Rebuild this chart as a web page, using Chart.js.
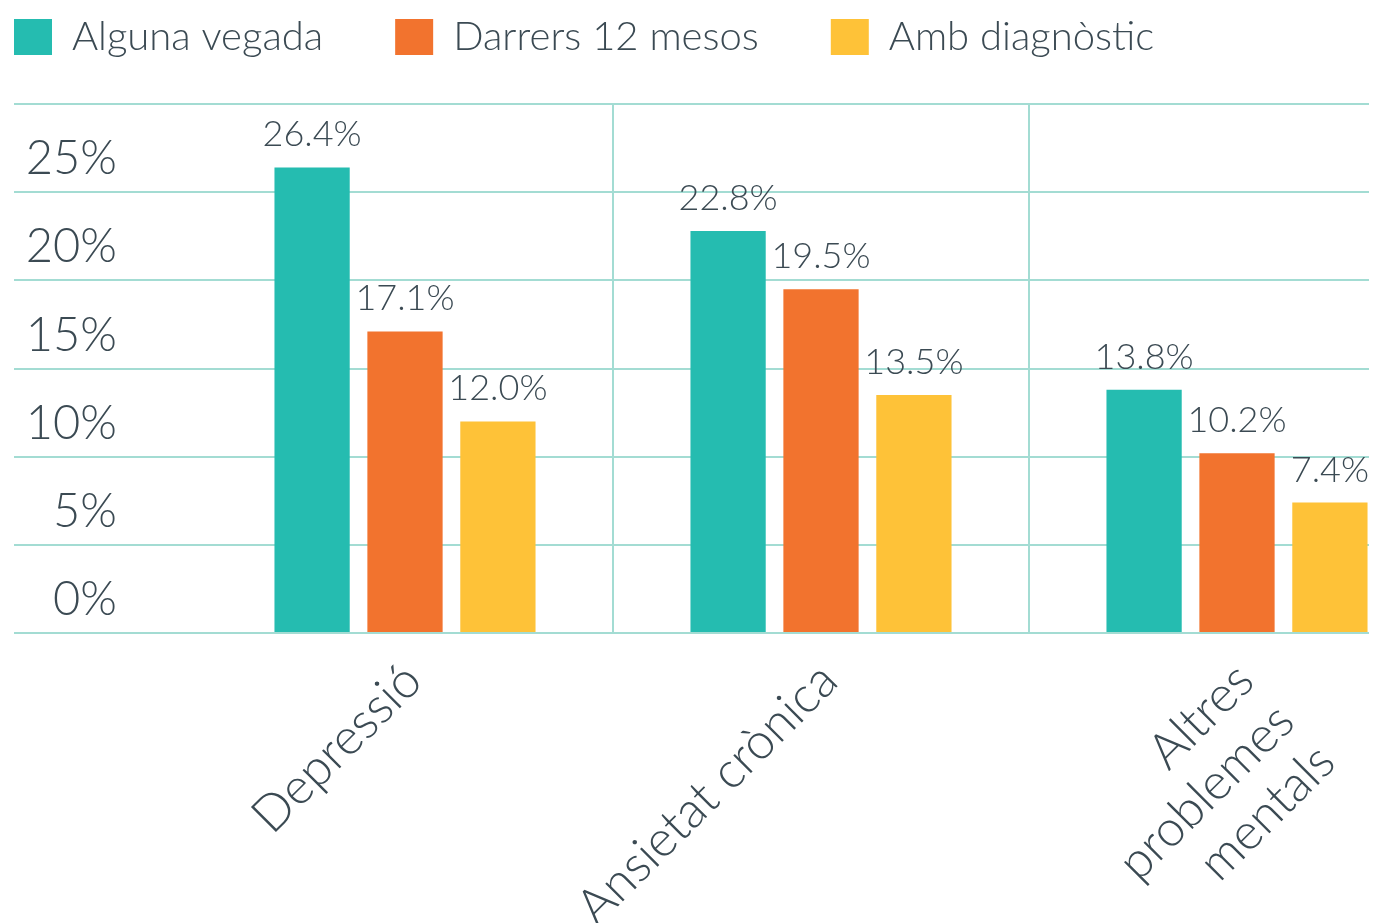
<!DOCTYPE html>
<html>
<head>
<meta charset="utf-8">
<script src="https://cdn.jsdelivr.net/npm/chart.js@4"></script>
<style>
  html, body { margin: 0; padding: 0; background: #fff; }
  #wrap { width: 1369px; height: 923px; overflow: hidden; }
</style>
</head>
<body>
<div id="wrap"><canvas id="myChart" width="1445" height="923"></canvas></div>
<script>
// Chart values
const categories = ['Depressió', 'Ansietat crònica', ['Altres', 'problemes', 'mentals']];
const seriesNames = ['Alguna vegada', 'Darrers 12 mesos', 'Amb diagnòstic'];
const algunaVegada = [26.4, 22.8, 13.8];
const darrers12 = [17.1, 19.5, 10.2];
const ambDiagnostic = [12.0, 13.5, 7.4];
const yTicks = [0, 5, 10, 15, 20, 25, 30];

const textColor = '#3b4a53';
const gridColor = '#a3dcd3';
const fontName = 'Lato';
const fontWeight = 300;

// Value labels above each bar
const barLabels = {
    id: 'barLabels',
    afterDatasetsDraw(chart) {
        const ctx = chart.ctx;
        ctx.save();
        ctx.font = fontWeight + ' 36px ' + fontName;
        ctx.fillStyle = textColor;
        ctx.textAlign = 'center';
        ctx.textBaseline = 'alphabetic';
        chart.data.datasets.forEach((ds, i) => {
            chart.getDatasetMeta(i).data.forEach((bar, j) => {
                ctx.fillText(ds.data[j].toFixed(1) + '%', bar.x, bar.y - 21);
            });
        });
        ctx.restore();
    }
};

// Legend sits in the top-left corner, items spaced wide apart
const legendSpace = {
    id: 'legendSpace',
    beforeInit(chart) {
        const fit = chart.legend.fit;
        chart.legend.fit = function () {
            fit.call(this);
            this.height = 104;
        };
    },
    afterLayout(chart) {
        const pad = chart.legend.options.labels.padding;
        chart.legend.left = 14 - pad;
        chart.legend.top = 17 - pad;
    }
};

var ctx = document.getElementById('myChart').getContext('2d');
var myChart = new Chart(ctx, {
    type: 'bar',
    data: {
        labels: categories,
        datasets: [
            { label: seriesNames[0], data: algunaVegada, backgroundColor: '#25bcb0' },
            { label: seriesNames[1], data: darrers12, backgroundColor: '#f2732e' },
            { label: seriesNames[2], data: ambDiagnostic, backgroundColor: '#fec238' }
        ]
    },
    options: {
        responsive: false,
        animation: false,
        layout: { padding: { left: 14, right: 0, top: 0, bottom: 0 } },
        datasets: {
            bar: { barPercentage: 0.81, categoryPercentage: 0.67 }
        },
        plugins: {
            legend: {
                position: 'top',
                align: 'start',
                labels: {
                    boxWidth: 38,
                    boxHeight: 36,
                    padding: 72,
                    color: textColor,
                    font: { family: fontName, size: 40, weight: fontWeight }
                }
            },
            tooltip: { enabled: false }
        },
        scales: {
            x: {
                border: { display: false },
                grid: {
                    offset: true,
                    drawTicks: false,
                    lineWidth: 2,
                    color: c => c.index === 0 ? 'rgba(0,0,0,0)' : gridColor
                },
                ticks: {
                    minRotation: 45,
                    maxRotation: 45,
                    padding: 19,
                    labelOffset: 8,
                    color: textColor,
                    font: { family: fontName, size: 50, weight: fontWeight, lineHeight: 1.15 }
                },
                afterFit(scale) { scale.height = 290; }
            },
            y: {
                min: 0,
                max: 30,
                border: { display: false },
                grid: {
                    lineWidth: 2,
                    color: gridColor,
                    tickLength: 183
                },
                afterBuildTicks(scale) {
                    scale.ticks = yTicks.map(v => ({ value: v }));
                },
                ticks: {
                    padding: -103,
                    labelOffset: -33,
                    color: textColor,
                    font: { family: fontName, size: 47, weight: fontWeight },
                    callback: v => v === 30 ? '' : v + '%'
                },
                afterFit(scale) { scale.width = 183; }
            }
        }
    },
    plugins: [barLabels, legendSpace]
});
</script>
</body>
</html>
